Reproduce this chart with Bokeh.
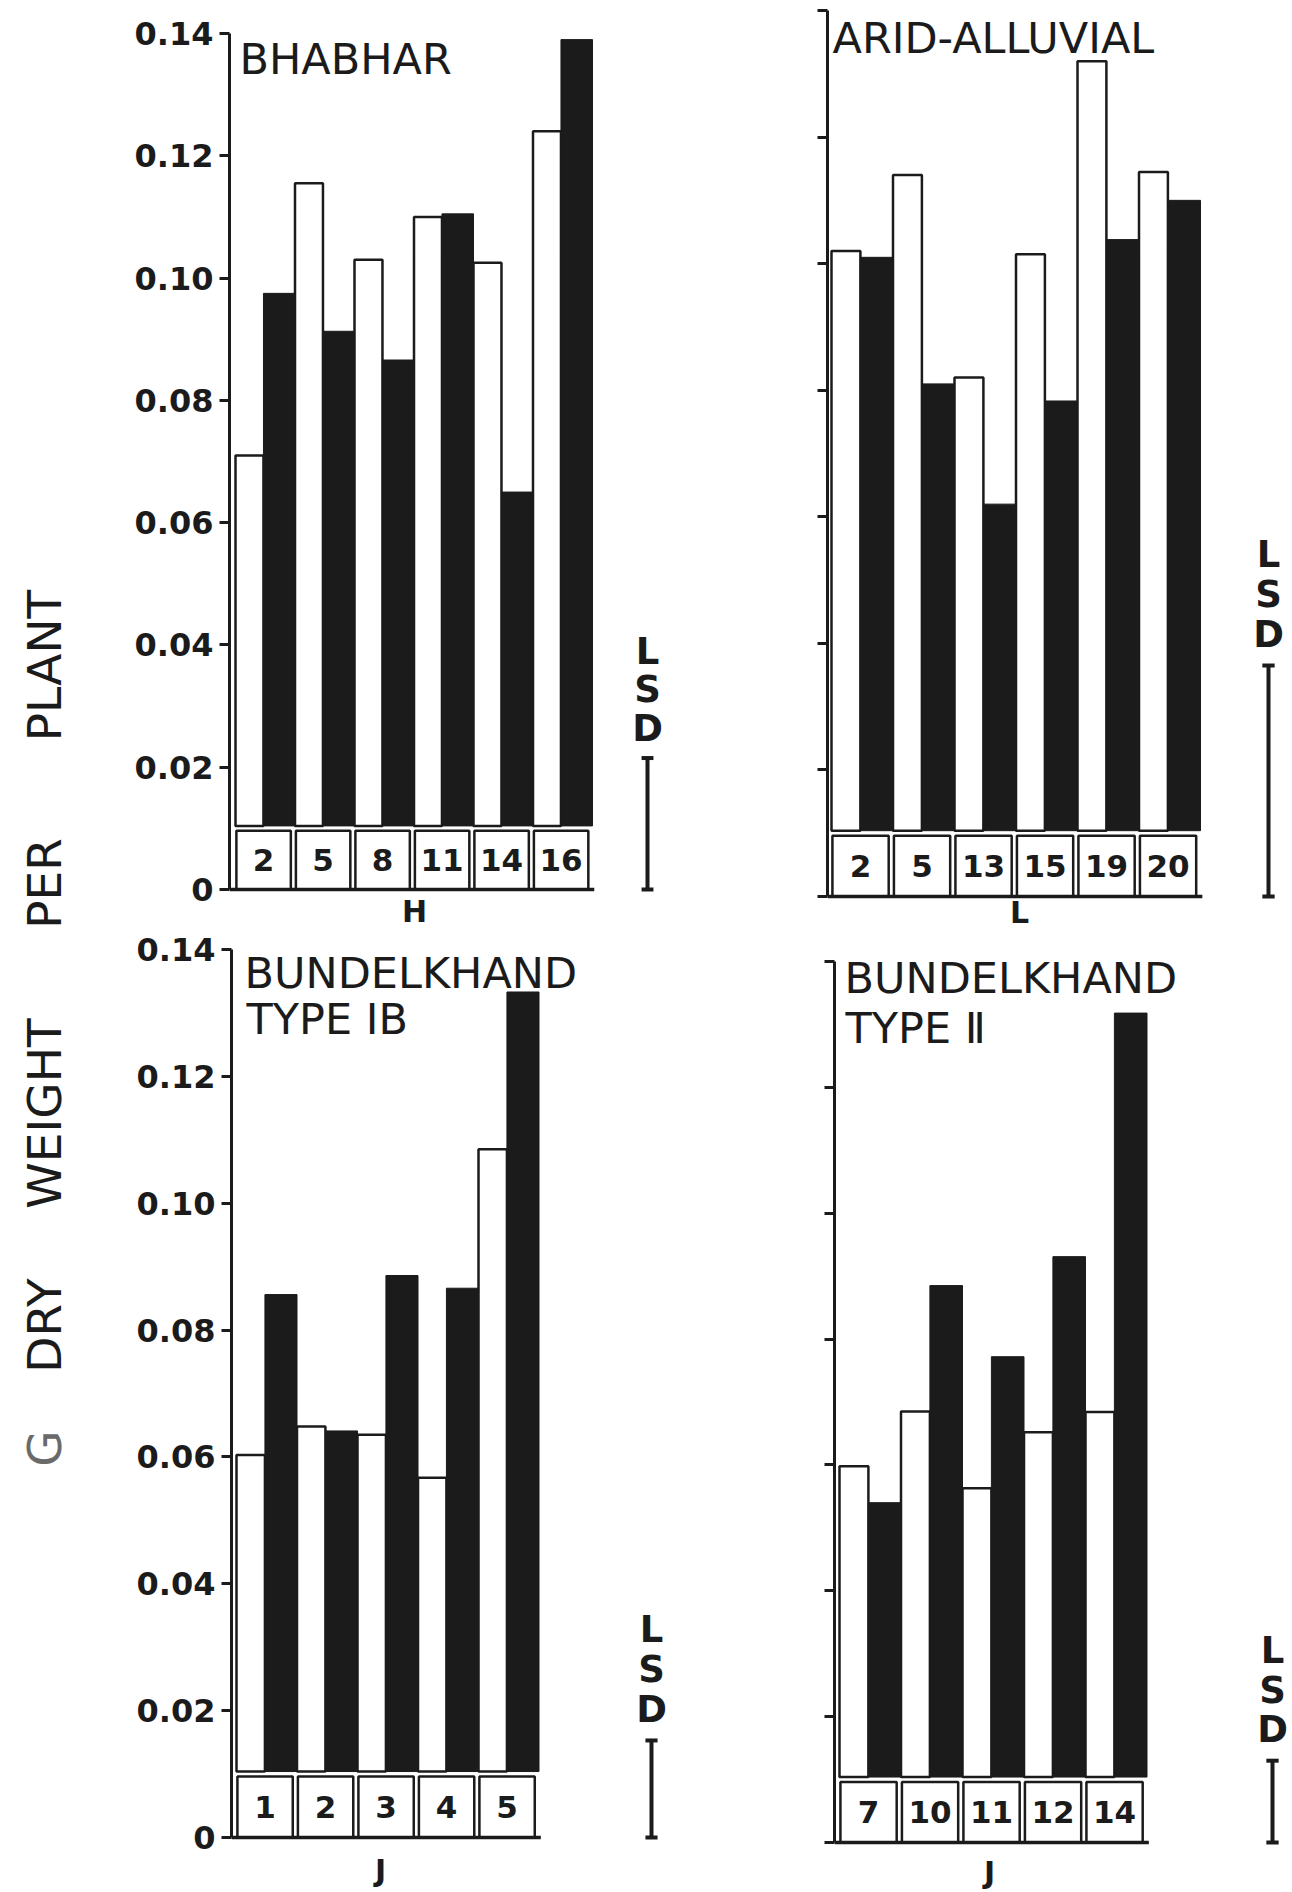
import numpy as np
from bokeh.plotting import figure
from bokeh.layouts import row, column
from bokeh.models import Range1d, FixedTicker, NumeralTickFormatter
from bokeh.embed import file_html
from bokeh.resources import INLINE
from bokeh.core.properties import value

# ---------------- data ----------------
bhabhar_labels = ["2", "5", "8", "11", "14", "16"]
bhabhar_open = [0.071, 0.1155, 0.103, 0.110, 0.1025, 0.124]
bhabhar_solid = [0.0975, 0.0913, 0.0866, 0.1105, 0.065, 0.139]
bhabhar_lsd = 0.0215

arid_labels = ["2", "5", "13", "15", "19", "20"]
arid_open = [0.102, 0.114, 0.082, 0.1015, 0.132, 0.1145]
arid_solid = [0.101, 0.081, 0.062, 0.0783, 0.1038, 0.110]
arid_lsd = 0.0365

bund1_labels = ["1", "2", "3", "4", "5"]
bund1_open = [0.0603, 0.0648, 0.0635, 0.0567, 0.1085]
bund1_solid = [0.0856, 0.0641, 0.0886, 0.0866, 0.1333]
bund1_lsd = 0.0153

bund2_labels = ["7", "10", "11", "12", "14"]
bund2_open = [0.0598, 0.0685, 0.0563, 0.0652, 0.0684]
bund2_solid = [0.0540, 0.0885, 0.0772, 0.0931, 0.1318]
bund2_lsd = 0.013

y_ticks = [0, 0.02, 0.04, 0.06, 0.08, 0.10, 0.12, 0.14]
y_tick_labels = ["0", "0.02", "0.04", "0.06", "0.08", "0.10", "0.12", "0.14"]
y_words = ["G", "DRY", "WEIGHT", "PER", "PLANT"]
lsd_letters = ["L", "S", "D"]

# ---------------- styling / layout constants ----------------
FONT = "DejaVu Sans"
INK = "#1b1b1b"
OPEN_C, OPEN_W = 0.235, 0.47
SOLID_C, SOLID_W = 0.735, 0.53
BAR_BASE = 0.0104
BOX_TOP = 0.0096
BOX_L, BOX_R = 0.015, 0.93
Y_MAX = 0.14
SPLIT = 930      # page y where the two rows meet
PAGE_W, PAGE_H = 1292, 1892


def make_panel(cats, opens, solids, lsd, titles, xlabel, g, tick_labels):
    n = len(cats)
    sy = (g["zero"] - g["top"]) / Y_MAX

    def ypx(py):
        return (g["zero"] - py) / sy

    def xpx(px):
        return (px - g["group0"]) / g["pitch"]

    p = figure(frame_width=g["frame_right"] - g["axis"],
               frame_height=g["frame_bottom"] - g["frame_top"],
               x_range=Range1d(xpx(g["axis"]), xpx(g["frame_right"])),
               y_range=Range1d(ypx(g["frame_bottom"]), ypx(g["frame_top"])),
               x_axis_location=None, y_axis_location="left",
               toolbar_location=None, output_backend="svg",
               min_border=0, min_border_left=g["axis"] - g["fig_left"])
    p.xgrid.visible = False
    p.ygrid.visible = False
    p.outline_line_color = None
    p.background_fill_color = "white"
    p.border_fill_color = "white"

    ax = p.yaxis[0]
    ax.ticker = FixedTicker(ticks=y_ticks)
    ax.bounds = (0, Y_MAX)
    ax.formatter = NumeralTickFormatter(format="0.00")
    ax.major_label_overrides = {t: l for t, l in zip(y_ticks, tick_labels)}
    ax.axis_line_width = 3
    ax.axis_line_color = INK
    ax.major_tick_line_width = 3
    ax.major_tick_line_color = INK
    ax.major_tick_out = 10
    ax.major_tick_in = 0
    ax.minor_tick_out = 0
    ax.minor_tick_in = 0
    ax.major_label_standoff = 6
    ax.major_label_text_font = FONT
    ax.major_label_text_font_size = "32px"
    ax.major_label_text_font_style = "bold"
    ax.major_label_text_color = INK

    idx = np.arange(n)
    p.vbar(x=idx + OPEN_C, width=OPEN_W, bottom=BAR_BASE, top=opens,
           fill_color="white", line_color=INK, line_width=2.5)
    p.vbar(x=idx + SOLID_C, width=SOLID_W, bottom=BAR_BASE, top=solids,
           fill_color=INK, line_color=INK, line_width=1)
    p.quad(left=idx + BOX_L, right=idx + BOX_R, bottom=0, top=BOX_TOP,
           fill_color="white", line_color=INK, line_width=2.5)
    p.text(x=idx + (BOX_L + BOX_R) / 2, y=[BOX_TOP / 2] * n, text=cats,
           text_align="center", text_baseline="middle", text_color=INK,
           text_font=value(FONT), text_font_style="bold", text_font_size="31px")
    # base line
    p.segment(x0=[xpx(g["axis"])], y0=[0], x1=[n + 0.03], y1=[0],
              line_width=3.5, line_color=INK)

    # LSD bar
    lx = xpx(g["lsd_px"])
    cap = 0.1
    p.segment(x0=[lx], y0=[0], x1=[lx], y1=[lsd], line_width=4, line_color=INK)
    p.segment(x0=[lx - cap, lx - cap], y0=[0, lsd], x1=[lx + cap, lx + cap],
              y1=[0, lsd], line_width=4, line_color=INK)
    p.text(x=[lx] * 3, y=[lsd + 0.0049 + 2 * 0.0063, lsd + 0.0049 + 0.0063, lsd + 0.0049],
           text=lsd_letters, text_align="center", text_baseline="middle",
           text_color=INK, text_font=value(FONT), text_font_style="bold",
           text_font_size="37px")

    # panel titles
    for (t, tx, ty) in titles:
        p.text(x=[xpx(tx)], y=[ypx(ty)], text=[t], text_align="left",
               text_baseline="middle", text_color=INK, text_font=value(FONT),
               text_font_size="43px")
    # category axis letter
    t, tx, ty = xlabel
    p.text(x=[xpx(tx)], y=[ypx(ty)], text=[t], text_align="center",
           text_baseline="middle", text_color=INK, text_font=value(FONT),
           text_font_style="bold", text_font_size="30px")
    return p


geo1 = dict(fig_left=100, axis=229, frame_right=705, frame_top=0, frame_bottom=SPLIT,
            top=33, zero=889, group0=235, pitch=59.5, lsd_px=647)
geo2 = dict(fig_left=705, axis=827, frame_right=PAGE_W, frame_top=0, frame_bottom=SPLIT,
            top=10, zero=896, group0=831, pitch=61.5, lsd_px=1268)
geo3 = dict(fig_left=100, axis=231, frame_right=705, frame_top=SPLIT, frame_bottom=PAGE_H,
            top=949, zero=1837, group0=236, pitch=60.5, lsd_px=651)
geo4 = dict(fig_left=705, axis=834, frame_right=PAGE_W, frame_top=SPLIT, frame_bottom=PAGE_H,
            top=961, zero=1842, group0=839, pitch=61.5, lsd_px=1272)

blank = [""] * len(y_ticks)

p1 = make_panel(bhabhar_labels, bhabhar_open, bhabhar_solid, bhabhar_lsd,
                [("BHABHAR", 239, 58)], ("H", 414, 911), geo1, y_tick_labels)
p2 = make_panel(arid_labels, arid_open, arid_solid, arid_lsd,
                [("ARID-ALLUVIAL", 832, 37)], ("L", 1019, 912), geo2, blank)
p3 = make_panel(bund1_labels, bund1_open, bund1_solid, bund1_lsd,
                [("BUNDELKHAND", 244, 972), ("TYPE IB", 246, 1018)],
                ("J", 380, 1870), geo3, y_tick_labels)
p4 = make_panel(bund2_labels, bund2_open, bund2_solid, bund2_lsd,
                [("BUNDELKHAND", 844, 977), ("TYPE Ⅱ", 845, 1027)],
                ("J", 989, 1872), geo4, blank)

# vertical axis title column (page pixel coordinates)
lab = figure(frame_width=100, frame_height=PAGE_H, x_range=Range1d(0, 100),
             y_range=Range1d(0, PAGE_H), x_axis_location=None, y_axis_location=None,
             toolbar_location=None, output_backend="svg", min_border=0)
lab.xgrid.visible = False
lab.ygrid.visible = False
lab.outline_line_color = None
word_page_y = [1448, 1325, 1113, 883, 665]
lab.text(x=[44] * len(y_words), y=[PAGE_H - v for v in word_page_y], text=y_words,
         angle=np.pi / 2, text_align="center", text_baseline="middle",
         text_color=["#6a6a6a", INK, INK, INK, INK], text_font=value(FONT),
         text_font_size="47px")

layout = row(lab, column(row(p1, p2), row(p3, p4)))
open("out.html", "w").write(file_html(layout, INLINE))
